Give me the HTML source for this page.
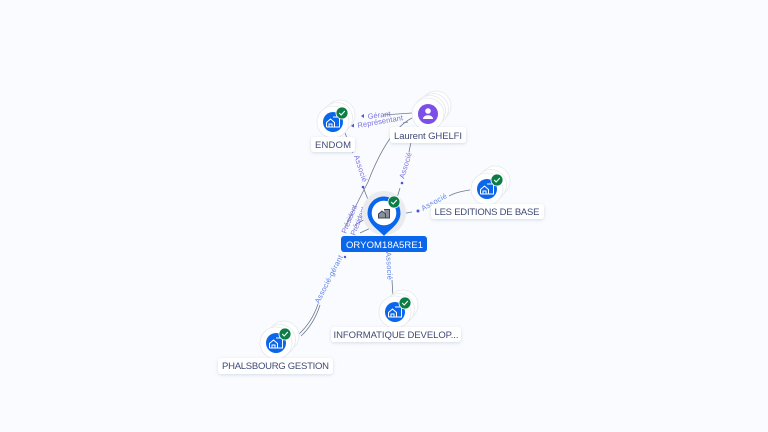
<!DOCTYPE html>
<html><head><meta charset="utf-8"><style>
html,body{margin:0;padding:0;background:#f9fbfe}
svg{display:block;filter:blur(.3px)}
text{font-family:"Liberation Sans",sans-serif}
.l{font-size:9.5px;fill:#3f4a75;text-anchor:middle}
.e{font-size:7.5px;fill:#7b74e0}
.b{font-size:7.5px;fill:#5f83e8}
.w{fill:none;stroke:#6f7a90;stroke-width:.8}
</style></head><body>
<svg width="768" height="432" viewBox="0 0 768 432" xmlns="http://www.w3.org/2000/svg">
<defs>
<filter id="s" x="-30%" y="-50%" width="160%" height="200%"><feDropShadow dx="0" dy="1" stdDeviation="1.5" flood-color="#8090b0" flood-opacity=".3"/></filter>
<g id="house"><path d="M-6.500 5V0.500L-2.500-3 1.500 0.500V5M-4 5V2H-1V5M0-5H6.500V5H1.500M-6.500 5H6.500" fill="none" stroke="#fff" stroke-width="1"/></g>
<g id="chk"><circle r="6" fill="#0b7d45" stroke="#fff" stroke-width=".8"/><path d="M-2.800 0L-.8 2 2.800-2" fill="none" stroke="#fff" stroke-width="1.100"/></g>
</defs>
<rect width="768" height="432" fill="#f9fbfe"/>

<!-- edges -->
<path class="w" d="M345 133L353 153M363 187L371 207"/>
<path class="w" d="M412 118Q388 130 368 182L345 227"/>
<path class="w" d="M412 113L383 115M408 122L403 123"/>
<path class="w" d="M412 137L409 152M400 188L397 198"/>
<path class="w" d="M470 190Q456 192 449 196M412 212L401 214"/>
<path class="w" d="M392 280L393 297"/>
<path class="w" d="M372 215L355 225M379 224L360 233"/>
<path class="w" d="M299 334Q312 322 318 304M301 336Q314 324 320 305"/>

<!-- arrowheads -->
<g fill="#4a55d8">
<path d="M361 116l3-2v4zM351 126l3-2.500v4z"/>
<circle cx="363" cy="187" r="1.300"/>
<circle cx="402" cy="183" r="1.300"/>
<circle cx="418" cy="211" r="1.500"/>
<circle cx="345" cy="257" r="1.200"/>
</g>

<!-- edge labels -->
<text class="e" transform="translate(368,119) rotate(-7)" textLength="23">Gérant</text>
<text class="e" transform="translate(358,128) rotate(-10)" textLength="46">Représentant</text>
<text class="e" transform="translate(354,156) rotate(72)" textLength="28">Associé</text>
<text class="e" transform="translate(404,179) rotate(-73)" textLength="27">Associé</text>
<text class="b" transform="translate(423,211) rotate(-29)" textLength="28">Associé</text>
<text class="e" transform="translate(346,234) rotate(-68)" textLength="30">Président</text>
<text class="e" transform="translate(355,236) rotate(-68)" textLength="30">Président</text>
<text class="b" transform="translate(319,304) rotate(-63)" textLength="53">Associé-gérant</text>
<text class="b" transform="translate(386,252) rotate(87)" textLength="28">Associé</text>

<!-- ENDOM -->
<g fill="#fff" stroke="#e6e8ee" stroke-width=".8">
<circle cx="340" cy="115" r="15"/><circle cx="337" cy="118" r="15.500"/><circle cx="333" cy="122" r="16"/>
</g>
<circle cx="333" cy="122" r="10" fill="#0a66ea"/><use href="#house" x="333" y="122"/><use href="#chk" x="342" y="113"/>

<!-- Laurent -->
<g fill="#fff" stroke="#e6e8ee" stroke-width=".8">
<circle cx="436" cy="106" r="15"/><circle cx="433" cy="109" r="15.500"/><circle cx="430" cy="111" r="15.500"/><circle cx="428" cy="114" r="16"/>
</g>
<circle cx="428" cy="114" r="10" fill="#7b4fe8"/>
<circle cx="428" cy="111" r="2.800" fill="#fff"/><path d="M423 119c0-5 10-5 10 0z" fill="#fff"/>

<!-- LES EDITIONS -->
<g fill="#fff" stroke="#e6e8ee" stroke-width=".8">
<circle cx="495" cy="181" r="15"/><circle cx="491" cy="185" r="15.500"/><circle cx="487" cy="189" r="16"/>
</g>
<circle cx="487" cy="189" r="10" fill="#0a66ea"/><use href="#house" x="487" y="189"/><use href="#chk" x="497" y="180"/>

<!-- INFORMATIQUE -->
<g fill="#fff" stroke="#e6e8ee" stroke-width=".8">
<circle cx="403" cy="305" r="15"/><circle cx="399" cy="309" r="15.500"/><circle cx="395" cy="312" r="16"/>
</g>
<circle cx="395" cy="312" r="10" fill="#0a66ea"/><use href="#house" x="395" y="312"/><use href="#chk" x="405" y="303"/>

<!-- PHALSBOURG -->
<g fill="#fff" stroke="#e6e8ee" stroke-width=".8">
<circle cx="284" cy="336" r="15"/><circle cx="280" cy="340" r="15.500"/><circle cx="276" cy="343" r="16"/>
</g>
<circle cx="276" cy="343" r="10" fill="#0a66ea"/><use href="#house" x="276" y="343"/><use href="#chk" x="285" y="334"/>

<!-- Centre -->
<circle cx="384" cy="213" r="22" fill="#e9ebee"/>
<path d="M384 236C379 230 367.500 224 367.500 213a16.500 16.500 0 0 1 33 0C400.500 224 389 230 384 236z" fill="#0a66ea"/>
<circle cx="384" cy="213" r="12.300" fill="#fff"/>
<path d="M378.500 218V214L382 211 385.500 214V218ZM384 209.500H389.500V218H385.500" fill="#8a8f9c" stroke="#3f4450" stroke-width="1"/>
<use href="#chk" x="394" y="202"/>

<!-- Labels -->
<g fill="#fff" filter="url(#s)">
<rect x="311" y="137" width="44" height="15" rx="3"/>
<rect x="390" y="127" width="76" height="16" rx="3"/>
<rect x="431" y="204" width="113" height="15" rx="3"/>
<rect x="331" y="327" width="130" height="15" rx="3"/>
<rect x="218" y="358" width="115" height="16" rx="3"/>
</g>
<rect x="341" y="236" width="86" height="16" rx="3" fill="#0a66ea"/>
<text class="l" x="333" y="148" textLength="36">ENDOM</text>
<text class="l" x="428" y="139" textLength="68">Laurent GHELFI</text>
<text class="l" x="487" y="215" textLength="105">LES EDITIONS DE BASE</text>
<text class="l" x="396" y="338" textLength="125">INFORMATIQUE DEVELOP...</text>
<text class="l" x="275.500" y="369" textLength="107">PHALSBOURG GESTION</text>
<text class="l" x="384.500" y="248" style="fill:#fff" textLength="77">ORYOM18A5RE1</text>
</svg>
</body></html>
